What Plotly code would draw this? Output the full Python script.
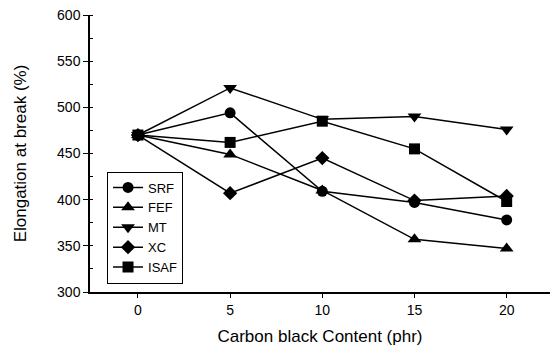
import plotly.graph_objects as go

x = [0, 5, 10, 15, 20]
srf = [470, 494, 409, 397, 378]
fef = [470, 449, 410, 357, 347]
mt = [470, 521, 487, 490, 476]
xc = [470, 407, 445, 399, 404]
isaf = [470, 462, 485, 455, 398]

series = [("SRF", srf, "circle"), ("FEF", fef, "triangle-up"),
          ("MT", mt, "triangle-down"), ("XC", xc, "diamond"),
          ("ISAF", isaf, "square")]

fig = go.Figure()
for name, ys, sym in series:
    size = 12 if sym.startswith("triangle") else 11
    fig.add_trace(go.Scatter(x=x, y=ys, name=name, mode="lines+markers",
                             line=dict(color="black", width=1.5),
                             marker=dict(symbol=sym, size=size, color="black")))

fig.update_layout(
    width=550, height=352,
    margin=dict(l=90, r=0, t=15, b=60),
    paper_bgcolor="white", plot_bgcolor="white",
    font=dict(family="Arial, Liberation Sans, sans-serif", color="black", size=14),
    showlegend=True,
    legend=dict(x=0.037, y=0.435, xanchor="left", yanchor="top",
                bordercolor="black", borderwidth=1, bgcolor="white",
                font=dict(size=13), itemwidth=30, tracegroupgap=0),
    xaxis=dict(range=[-2.6, 22.35], tickvals=[0, 5, 10, 15, 20], automargin=False,
               showgrid=False, zeroline=False, showline=True, linecolor="black",
               linewidth=1.5, ticks="outside", ticklen=4, tickcolor="black",
               title=dict(text="Carbon black Content (phr)", font=dict(size=17), standoff=14)),
    yaxis=dict(range=[300, 600], tickvals=[300, 350, 400, 450, 500, 550, 600], automargin=False,
               showgrid=False, zeroline=False, showline=True, linecolor="black",
               linewidth=1.5, ticks="outside", ticklen=5, tickcolor="black",
               minor=dict(dtick=25, ticks="inside", ticklen=3, tickcolor="black"),
               title=dict(text="Elongation at break (%)", font=dict(size=17), standoff=26)),
)

fig.write_html("out.html", config={"displayModeBar": False},
               post_script="document.body.style.margin='0';document.body.style.overflow='hidden';")
